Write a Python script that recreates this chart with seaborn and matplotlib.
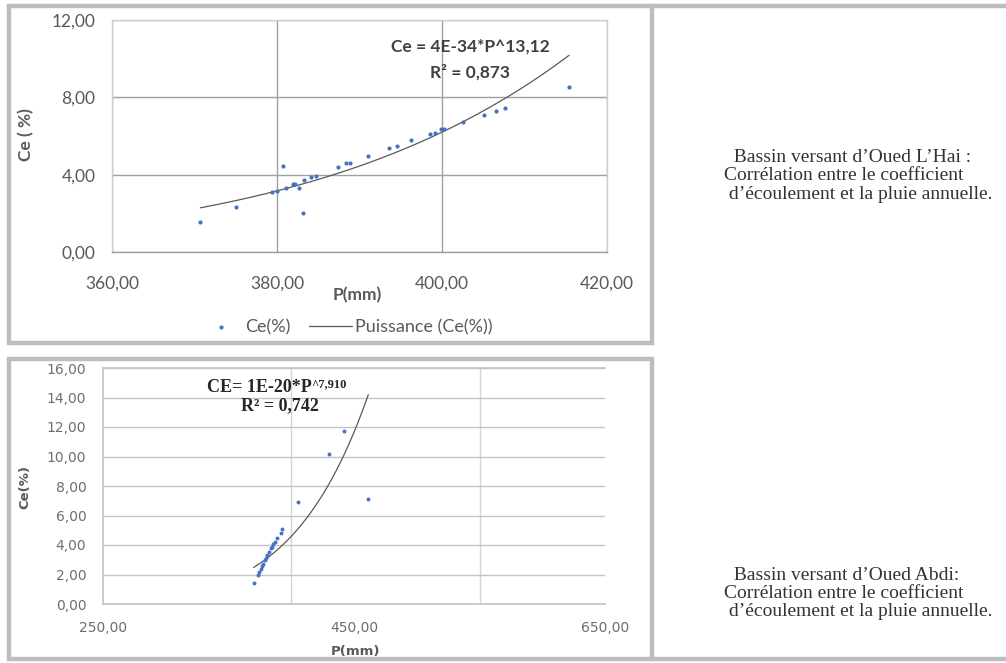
import numpy as np
import matplotlib
matplotlib.use("Agg")
import matplotlib.pyplot as plt
import seaborn as sns
from matplotlib.lines import Line2D
from matplotlib.patches import Rectangle
from matplotlib.ticker import FuncFormatter

# Oued L'Hai : pluie annuelle P (mm) et coefficient d'ecoulement Ce (%)
lhai_p = [370.7, 375.0, 379.4, 380.0, 380.7, 381.1, 381.9, 382.2, 382.7, 383.1,
          383.3, 384.1, 384.7, 387.4, 388.4, 388.8, 391.0, 393.6, 394.5, 396.2,
          398.5, 399.1, 399.9, 400.3, 402.5, 405.1, 406.5, 407.6, 415.4]
lhai_ce = [1.57, 2.32, 3.08, 3.18, 4.43, 3.31, 3.52, 3.53, 3.29, 2.04,
           3.72, 3.90, 3.95, 4.38, 4.59, 4.61, 4.95, 5.37, 5.47, 5.77,
           6.11, 6.13, 6.34, 6.34, 6.72, 7.10, 7.27, 7.46, 8.55]
lhai_a, lhai_b = 4.5e-34, 13.12
lhai_eq = "Ce = 4E-34*P^13,12"
lhai_r2 = "R² = 0,873"

# Oued Abdi
abdi_p = [370.0, 373.5, 374.5, 375.5, 376.5, 377.5, 379.0, 380.0, 381.0, 382.5,
          383.6, 384.4, 385.5, 387.3, 389.0, 391.5, 392.6, 405.6, 430.0, 442.3, 461.4]
abdi_ce = [1.40, 1.97, 2.20, 2.35, 2.55, 2.70, 2.95, 3.10, 3.35, 3.55,
           3.78, 3.89, 4.05, 4.22, 4.50, 4.79, 5.06, 6.89, 10.19, 11.71, 7.12]
abdi_a, abdi_b = 1.2e-20, 7.91
abdi_eq = "CE= 1E-20*P"
abdi_exp = "^7,910"
abdi_r2 = "R² = 0,742"

lhai_caption = ["  Bassin versant d\u2019Oued L\u2019Hai :",
                "Corrélation entre le coefficient",
                " d\u2019écoulement et la pluie annuelle."]
abdi_caption = ["  Bassin versant d\u2019Oued Abdi:",
                "Corrélation entre le coefficient",
                " d\u2019écoulement et la pluie annuelle."]

sns.set_theme(style="white")
plt.rcParams["font.family"] = ["DejaVu Sans"]

W, H = 1006, 663
fig = plt.figure(figsize=(W / 100, H / 100), dpi=100)


def fx(px):
    return px / W


def fy(py):
    return 1 - py / H


comma = FuncFormatter(lambda v, pos: f"{v:.2f}".replace(".", ","))
blue = "#4472c4"
trend = "#595959"
frame_col = "#bdbdbd"

# outer frames
for (x0, y0, x1, y1) in [(9, 6, 652, 343), (9, 359, 652, 659)]:
    fig.add_artist(Rectangle((fx(x0), fy(y1)), fx(x1) - fx(x0), fy(y0) - fy(y1),
                             fill=False, edgecolor=frame_col, lw=3.2,
                             transform=fig.transFigure))
fig.add_artist(Line2D([fx(652), 1], [fy(6), fy(6)], color=frame_col, lw=3.2))
fig.add_artist(Line2D([fx(652), 1], [fy(659), fy(659)], color=frame_col, lw=3.2))

# ---- top chart : Oued L'Hai
ax1 = fig.add_axes([fx(112), fy(252), fx(607) - fx(112), fy(20) - fy(252)])
sns.scatterplot(x=lhai_p, y=lhai_ce, ax=ax1, color=blue, s=9, linewidth=0,
                label="Ce(%)", zorder=3)
cx = np.linspace(min(lhai_p), max(lhai_p), 200)
sns.lineplot(x=cx, y=lhai_a * cx ** lhai_b, ax=ax1, color=trend, lw=0.9,
             label="Puissance (Ce(%))", zorder=2)
ax1.set_xlim(360, 420)
ax1.set_ylim(0, 12)
ax1.set_xticks([360, 380, 400, 420])
ax1.set_yticks([0, 4, 8, 12])
ax1.xaxis.set_major_formatter(comma)
ax1.yaxis.set_major_formatter(comma)
ax1.grid(True, color="#a0a0a0", lw=1)
for s in ax1.spines.values():
    s.set_color("#d0d0d0")
    s.set_linewidth(1)
ax1.spines["bottom"].set_color("#a0a0a0")
ax1.tick_params(length=0, labelsize=12.5, labelcolor="#595959")
ax1.tick_params(axis="x", pad=17)
ax1.tick_params(axis="y", pad=12)
for lab in ax1.get_xticklabels() + ax1.get_yticklabels():
    lab.set_fontfamily("Lato")
ax1.set_xlabel("P(mm)", fontsize=12.5, fontweight="bold", color="#595959",
               family="Lato")
ax1.xaxis.set_label_coords((357 - 112) / 495, (252 - 287) / 232)
ax1.set_ylabel("Ce ( %)", fontsize=12.5, fontweight="bold", color="#595959",
               family="Lato")
ax1.yaxis.set_label_coords((34 - 112) / 495, (252 - 135) / 232)
ax1.text((470 - 112) / 495, (252 - 47) / 232, lhai_eq, transform=ax1.transAxes,
         ha="center", va="center", fontsize=12.5, fontweight="bold",
         color="#404040", family="Lato")
ax1.text((470 - 112) / 495, (252 - 72) / 232, lhai_r2, transform=ax1.transAxes,
         ha="center", va="center", fontsize=12.5, fontweight="bold",
         color="#404040", family="Lato")
leg = ax1.legend(loc="center", bbox_to_anchor=(fx(346), fy(327)),
                 bbox_transform=fig.transFigure, ncol=2, frameon=False,
                 fontsize=13, handlelength=2.4, columnspacing=1.0,
                 handletextpad=0.15, borderpad=0, borderaxespad=0)
for t in leg.get_texts():
    t.set_color("#595959")
    t.set_fontfamily("Lato")

# ---- bottom chart : Oued Abdi
ax2 = fig.add_axes([fx(103), fy(604), fx(605) - fx(103), fy(368) - fy(604)])
sns.scatterplot(x=abdi_p, y=abdi_ce, ax=ax2, color=blue, s=8, linewidth=0,
                zorder=3, legend=False)
cx2 = np.linspace(min(abdi_p), max(abdi_p), 200)
sns.lineplot(x=cx2, y=abdi_a * cx2 ** abdi_b, ax=ax2, color=trend, lw=0.9,
             zorder=2, legend=False)
ax2.set_xlim(250, 650)
ax2.set_ylim(0, 16)
ax2.set_xticks([250, 450, 650])
ax2.set_xticks([400, 550], minor=True)
ax2.set_yticks(np.arange(0, 17, 2))
ax2.xaxis.set_major_formatter(comma)
ax2.yaxis.set_major_formatter(comma)
ax2.grid(True, axis="y", color="#c4c4c4", lw=1)
ax2.grid(True, axis="x", which="minor", color="#d4d4d4", lw=1)
ax2.spines["right"].set_visible(False)
ax2.spines["left"].set_color("#c4c4c4")
ax2.spines["top"].set_color("#c4c4c4")
ax2.spines["bottom"].set_color("#c4c4c4")
ax2.tick_params(which="both", length=0, labelsize=10, labelcolor="#6e6e6e")
ax2.tick_params(axis="x", pad=12.5)
ax2.tick_params(axis="y", pad=12)
ax2.set_xlabel("P(mm)", fontsize=9.5, fontweight="bold", color="#595959")
ax2.xaxis.set_label_coords((355 - 103) / 502, (604 - 645) / 236)
ax2.set_ylabel("Ce(%)", fontsize=9.5, fontweight="bold", color="#595959")
ax2.yaxis.set_label_coords((31 - 103) / 502, (604 - 487) / 236)
eq = ax2.text((207 - 103) / 502, (604 - 388) / 236, abdi_eq, transform=ax2.transAxes,
              ha="left", va="center", fontsize=13, fontweight="bold",
              color="#262626", family="Liberation Serif")
ax2.annotate(abdi_exp, xy=(1.0, 0.75), xycoords=eq, ha="left", va="center",
             fontsize=9, fontweight="bold", color="#262626",
             family="Liberation Serif")
ax2.text((280 - 103) / 502, (604 - 406) / 236, abdi_r2, transform=ax2.transAxes,
         ha="center", va="center", fontsize=13, fontweight="bold",
         color="#262626", family="Liberation Serif")

# ---- captions on the right
for i, line in enumerate(lhai_caption):
    fig.text(fx(724), fy(158 + 18 * i), line, ha="left", va="center",
             fontsize=14, color="#333333", family="Liberation Serif")
for i, line in enumerate(abdi_caption):
    fig.text(fx(724), fy(576 + 18 * i), line, ha="left", va="center",
             fontsize=14, color="#333333", family="Liberation Serif")

fig.savefig("out.png", dpi=100, facecolor="white")
